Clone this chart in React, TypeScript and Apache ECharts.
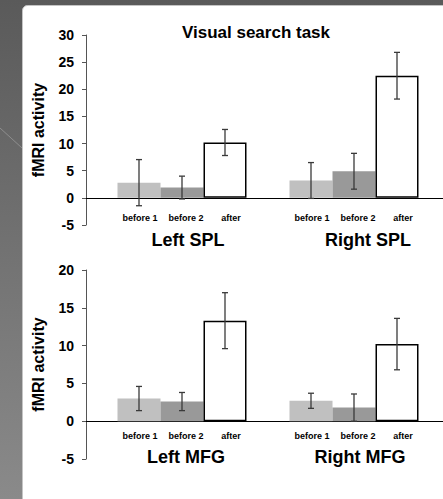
import React, { useEffect, useRef } from "react";
import * as echarts from "echarts";

const chartTitle = "Visual search task";
const yAxisName = "fMRI activity";
const conditions = ["before 1", "before 2", "after"];

const regionsTop = ["Left SPL", "Right SPL"];
const topMeans = [
  [2.8, 3.2],
  [1.9, 4.9],
  [10.2, 22.5],
];
const topErrs = [
  [4.25, 3.3],
  [2.1, 3.3],
  [2.4, 4.3],
];
const topMin = -5;
const topMax = 30;

const regionsBottom = ["Left MFG", "Right MFG"];
const bottomMeans = [
  [3.0, 2.7],
  [2.6, 1.8],
  [13.3, 10.2],
];
const bottomErrs = [
  [1.6, 1.0],
  [1.2, 1.8],
  [3.7, 3.4],
];
const bottomMin = -5;
const bottomMax = 20;
const tickStep = 5;

const FONT = "Liberation Sans, Arial, Helvetica, sans-serif";
const barColors = ["#c0c0c0", "#999999", "#ffffff"];
const labelShift = [1, 4, 6];

function buildPanel(
  gridAxisIdx: number,
  gridBarIdx: number,
  regions: string[],
  means: number[][],
  errs: number[][],
  labelDistance: number
) {
  const series: any[] = conditions.map((c, k) => ({
    type: "bar",
    name: c,
    xAxisIndex: gridBarIdx,
    yAxisIndex: gridBarIdx,
    barWidth: "25%",
    barGap: "0%",
    data: means[k],
    itemStyle: {
      color: barColors[k],
      borderColor: k === 2 ? "#000" : barColors[k],
      borderWidth: k === 2 ? 1.5 : 0,
    },
    label: {
      show: true,
      position: "bottom",
      distance: labelDistance,
      offset: [labelShift[k], 0],
      formatter: c,
      fontFamily: FONT,
      fontWeight: "bold",
      fontSize: 9,
      color: "#000",
    },
    z: 2,
  }));
  const errData: number[][] = [];
  conditions.forEach((_, k) => {
    regions.forEach((_, r) => {
      errData.push([r, k, means[k][r], errs[k][r]]);
    });
  });
  series.push({
    type: "custom",
    xAxisIndex: gridBarIdx,
    yAxisIndex: gridBarIdx,
    z: 5,
    encode: { x: 0, y: 2 },
    data: errData,
    renderItem: (params: any, api: any) => {
      const cat = api.value(0);
      const k = api.value(1);
      const m = api.value(2);
      const e = api.value(3);
      const band = api.size([1, 0])[0];
      const off = (k - 1) * band * 0.25;
      const top = api.coord([cat, m + e]);
      const bot = api.coord([cat, m - e]);
      const x = top[0] + off;
      const cap = 3;
      const st = { stroke: "#3a3a3a", lineWidth: 1.3 };
      return {
        type: "group",
        children: [
          { type: "line", shape: { x1: x, y1: top[1], x2: x, y2: bot[1] }, style: st },
          { type: "line", shape: { x1: x - cap, y1: top[1], x2: x + cap, y2: top[1] }, style: st },
          { type: "line", shape: { x1: x - cap, y1: bot[1], x2: x + cap, y2: bot[1] }, style: st },
        ],
      };
    },
  });
  return series;
}

export default function App() {
  const ref = useRef<HTMLDivElement>(null);
  useEffect(() => {
    if (!ref.current) return;
    const chart = echarts.init(ref.current, undefined, { renderer: "svg" });

    const grids = [
      { left: 86, top: 35, height: 190, right: 0 },
      { left: 96, top: 35, height: 190, width: 344 },
      { left: 86, top: 270, height: 189, right: 0 },
      { left: 96, top: 270, height: 189, width: 344 },
    ];

    const axisY = (min: number, max: number) => ({
      type: "value",
      min,
      max,
      interval: tickStep,
      name: yAxisName,
      nameLocation: "middle",
      nameRotate: 90,
      nameGap: 40,
      nameTextStyle: { fontFamily: FONT, fontWeight: "bold", fontSize: 16, color: "#000" },
      axisLine: { show: true, lineStyle: { color: "#555", width: 1 } },
      axisTick: { show: true, inside: false, length: 4, lineStyle: { color: "#555" } },
      axisLabel: { fontFamily: FONT, fontWeight: "bold", fontSize: 14, color: "#000", margin: 12 },
      splitLine: { show: false },
    });
    const hiddenY = (min: number, max: number) => ({
      type: "value",
      min,
      max,
      interval: tickStep,
      show: false,
      splitLine: { show: false },
    });
    const zeroX = (g: number) => ({
      type: "value",
      gridIndex: g,
      min: 0,
      max: 1,
      axisLine: { show: true, onZero: true, lineStyle: { color: "#000", width: 1 } },
      axisTick: { show: false },
      axisLabel: { show: false },
      splitLine: { show: false },
    });
    const catX = (g: number, data: string[]) => ({
      type: "category",
      gridIndex: g,
      data,
      show: false,
    });

    const groupLabel = (text: string, x: number, y: number) => ({
      type: "text",
      x,
      y,
      z: 100,
      style: {
        text,
        fill: "#000",
        font: `bold 18px ${FONT}`,
        textAlign: "center",
        textVerticalAlign: "middle",
      },
    });

    chart.setOption({
      animation: false,
      grid: grids,
      xAxis: [zeroX(0), catX(1, regionsTop), zeroX(2), catX(3, regionsBottom)],
      yAxis: [
        { ...axisY(topMin, topMax), gridIndex: 0 },
        { ...hiddenY(topMin, topMax), gridIndex: 1 },
        { ...axisY(bottomMin, bottomMax), gridIndex: 2 },
        { ...hiddenY(bottomMin, bottomMax), gridIndex: 3 },
      ],
      graphic: [
        {
          type: "rect",
          z: -100,
          silent: true,
          shape: { x: 0, y: 0, width: 443, height: 499 },
          style: {
            fill: new echarts.graphic.LinearGradient(0, 0, 0, 1, [
              { offset: 0, color: "#5a5a5a" },
              { offset: 1, color: "#8a8a8a" },
            ]),
          },
        },
        {
          type: "line",
          z: -99,
          silent: true,
          shape: { x1: 0, y1: 128, x2: 22, y2: 148 },
          style: { stroke: "#8e8e8e", lineWidth: 1 },
        },
        {
          type: "rect",
          z: -98,
          silent: true,
          shape: { x: 22.5, y: 5.5, width: 430, height: 500, r: [5, 0, 0, 0] },
          style: { fill: "#ffffff", stroke: "#c4c4c4", lineWidth: 1 },
        },
        {
          type: "text",
          x: 256,
          y: 32,
          z: 100,
          style: {
            text: chartTitle,
            fill: "#000",
            font: `bold 17px ${FONT}`,
            textAlign: "center",
            textVerticalAlign: "middle",
          },
        },
        groupLabel(regionsTop[0], 188, 240),
        groupLabel(regionsTop[1], 368, 240),
        groupLabel(regionsBottom[0], 186, 457),
        groupLabel(regionsBottom[1], 360, 457),
      ],
      series: [
        ...buildPanel(0, 1, regionsTop, topMeans, topErrs, 16),
        ...buildPanel(2, 3, regionsBottom, bottomMeans, bottomErrs, 10),
      ],
    });
    return () => chart.dispose();
  }, []);
  return (
    <div
      ref={ref}
      style={{ position: "absolute", left: 0, top: 0, width: 443, height: 499 }}
    />
  );
}
